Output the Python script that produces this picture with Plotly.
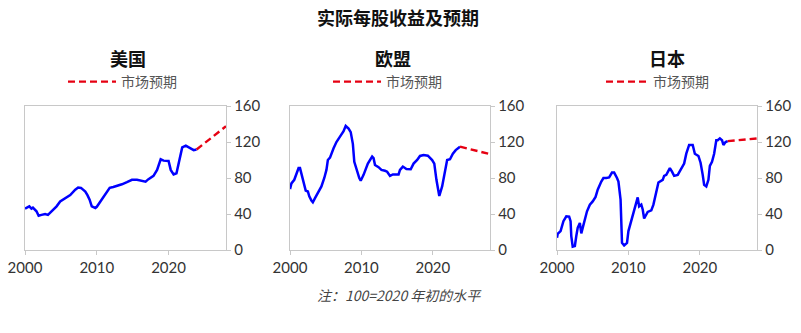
import plotly.graph_objects as go

# ---------------- data ----------------
us_years = [2000.0, 2000.6, 2000.9, 2001.1, 2001.6, 2001.9, 2002.3, 2002.8, 2003.2, 2003.7,
            2004.4, 2004.9, 2005.6, 2006.3, 2007.0, 2007.4, 2007.8, 2008.4, 2008.7, 2009.0,
            2009.3, 2009.8, 2010.0, 2010.5, 2011.2, 2011.8, 2012.3, 2013.0, 2013.5, 2014.2,
            2014.9, 2015.6, 2016.1, 2016.8, 2017.2, 2017.9, 2018.4, 2018.9, 2019.3, 2020.0,
            2020.3, 2020.7, 2021.1, 2021.5, 2021.9, 2022.4, 2022.9, 2023.5, 2023.9]
us_eps = [46, 48.5, 46, 47, 43, 38, 39, 40, 39, 43,
          48.5, 54, 58, 61, 67, 69.5, 69, 65, 61, 56,
          48.5, 46.7, 48, 54, 63, 69, 70, 71.4, 73, 75.4,
          78, 78, 77, 76, 78.7, 82.4, 89, 100.8, 99.3, 99,
          89, 84, 85.3, 100, 114, 116, 114, 111, 111.7]
us_fc_years = [2023.9, 2028.0]
us_fc = [111.7, 137.5]

eu_years = [2000.0, 2000.2, 2000.6, 2000.9, 2001.2, 2001.4, 2001.6, 2001.9, 2002.2, 2002.5,
            2002.7, 2003.0, 2003.2, 2003.5, 2004.0, 2004.4, 2004.8, 2005.1, 2005.3, 2005.6,
            2006.1, 2006.5, 2007.0, 2007.5, 2007.8, 2008.2, 2008.5, 2008.8, 2009.0, 2009.3,
            2009.7, 2009.9, 2010.3, 2010.9, 2011.3, 2011.5, 2011.7, 2011.9, 2012.4, 2012.8,
            2013.3, 2013.6, 2014.0, 2014.4, 2015.2, 2015.4, 2015.8, 2016.3, 2016.9, 2017.3,
            2017.8, 2018.2, 2018.7, 2019.3, 2019.9, 2020.2, 2020.5, 2020.9, 2021.3, 2021.6,
            2022.0, 2022.4, 2022.8, 2023.2, 2023.6, 2023.8]
eu_eps = [67.7, 74, 78, 85, 91, 91, 85, 74, 66, 65,
          59.6, 55, 53, 57.7, 65, 70.6, 80, 89, 100, 102.6,
          113, 120, 126, 132, 138, 135, 131, 118, 98, 89,
          80, 77, 83.5, 96, 102, 103.7, 102, 94.5, 92, 89,
          88, 87, 82.4, 84, 84, 89, 92.7, 90, 89.7, 96,
          100, 104.5, 105.6, 104.8, 100, 96, 78, 60, 70.6, 81.7,
          100, 100.8, 107, 111, 114, 114.8]
eu_fc_years = [2023.8, 2028.0]
eu_fc = [114.8, 106.5]

jp_years = [2000.0, 2000.1, 2000.5, 2000.7, 2000.9, 2001.3, 2001.7, 2001.9, 2002.0, 2002.2,
            2002.5, 2002.7, 2002.9, 2003.2, 2003.4, 2003.6, 2003.9, 2004.2, 2004.6, 2005.0,
            2005.4, 2005.7, 2006.2, 2006.5, 2006.9, 2007.3, 2007.7, 2008.0, 2008.4, 2008.6,
            2008.9, 2009.1, 2009.4, 2009.8, 2010.0, 2010.4, 2010.8, 2011.2, 2011.3, 2011.5,
            2011.8, 2012.0, 2012.2, 2012.7, 2013.2, 2013.5, 2013.9, 2014.2, 2014.8, 2015.0,
            2015.3, 2015.8, 2016.1, 2016.4, 2016.9, 2017.3, 2017.8, 2018.1, 2018.5, 2019.0,
            2019.3, 2019.8, 2020.1, 2020.4, 2020.6, 2020.9, 2021.2, 2021.4, 2021.7, 2022.0,
            2022.3, 2022.5, 2022.8, 2023.1, 2023.3, 2023.6, 2023.9]
jp_eps = [13.6, 18, 21, 26, 32, 37.5, 37, 32, 15.5, 3.7,
          4.4, 15.5, 24.6, 30, 18.4, 24.6, 35.7, 43, 50.4, 54,
          59, 67, 76, 80, 80, 80.6, 86, 86, 80, 76,
          56, 8, 5, 8, 21, 32, 43, 56, 58.5, 48.5,
          50.4, 45, 35, 42.3, 44, 50.4, 63, 75, 78, 82.4,
          83.5, 91, 87, 82.4, 83.5, 89, 96, 107, 116.7, 116.7,
          107, 104.5, 97, 83.5, 72.5, 70.6, 78, 93.4, 98, 107,
          122, 122, 124, 122, 116.7, 120, 121]
jp_fc_years = [2023.9, 2028.0]
jp_fc = [121, 124]

panel_titles = ["美国", "欧盟", "日本"]
legend_label = "市场预期"
main_title = "实际每股收益及预期"
note_text = "注：100=2020 年初的水平"
x_ticks = [2000, 2010, 2020]
y_ticks = [0, 40, 80, 120, 160]

# ---------------- styling ----------------
W, H = 801, 333
BLUE = "#0000FF"
RED = "#E60012"
GRID = "#C8C8C8"
TICKFONT = dict(family="Lato, Inter, sans-serif", size=15, color="#333333")
CJK = "Noto Sans CJK SC"

panels = [
    (us_years, us_eps, us_fc_years, us_fc, (25, 226), 128, 63, 48),
    (eu_years, eu_eps, eu_fc_years, eu_fc, (290, 490), 393, 328, 48),
    (jp_years, jp_eps, jp_fc_years, jp_fc, (557, 757), 667, 601, 42),
]
plot_top, plot_bottom = 106, 250

fig = go.Figure()
layout = dict(
    width=W, height=H, margin=dict(l=0, r=0, t=0, b=0, autoexpand=False),
    paper_bgcolor="white", plot_bgcolor="white",
    showlegend=True, annotations=[],
)

for i, (xs, ys, fx, fy, (x0, x1), tx, lx, iw) in enumerate(panels):
    n = "" if i == 0 else str(i + 1)
    xa, ya = "x" + n, "y" + n
    leg = "legend" + n
    fig.add_trace(go.Scatter(x=xs, y=ys, mode="lines", xaxis=xa, yaxis=ya,
                             line=dict(color=BLUE, width=2.5), showlegend=False,
                             hoverinfo="skip"))
    fig.add_trace(go.Scatter(x=fx, y=fy, mode="lines", xaxis=xa, yaxis=ya,
                             line=dict(color=RED, width=2.4, dash="7px,4px"),
                             name=legend_label, legend=leg, showlegend=True,
                             hoverinfo="skip"))
    layout["xaxis" + n] = dict(
        domain=[x0 / W, x1 / W], anchor=ya, range=[2000, 2028],
        tickvals=x_ticks, ticks="outside", ticklen=4, tickcolor=GRID,
        showline=True, linecolor=GRID, linewidth=1.3, mirror=True,
        showgrid=False, zeroline=False, tickfont=TICKFONT, automargin=False,
    )
    layout["yaxis" + n] = dict(
        domain=[(H - plot_bottom) / H, (H - plot_top) / H], anchor=xa,
        side="right", range=[0, 160], tickvals=y_ticks, ticks="outside",
        ticklen=4, tickcolor=GRID, showline=True, linecolor=GRID,
        linewidth=1.3, mirror=True, showgrid=False, zeroline=False,
        tickfont=TICKFONT, automargin=False,
    )
    layout[leg] = dict(
        x=lx / W, y=(H - 82) / H, xanchor="left", yanchor="middle",
        orientation="h", bgcolor="rgba(0,0,0,0)",
        font=dict(family=CJK, size=14, color="#555555"),
        itemwidth=iw,
    )
    layout["annotations"].append(dict(
        text="<b>%s</b>" % panel_titles[i], x=tx / W, y=(H - 58) / H,
        xref="paper", yref="paper", xanchor="center", yanchor="middle",
        showarrow=False, font=dict(family=CJK, size=18, color="#111111"),
    ))

layout["annotations"].append(dict(
    text="<b>%s</b>" % main_title, x=398 / W, y=(H - 17) / H,
    xref="paper", yref="paper", xanchor="center", yanchor="middle",
    showarrow=False, font=dict(family=CJK, size=18, color="#111111"),
))
layout["annotations"].append(dict(
    text="<i>%s</i>" % note_text, x=399 / W, y=(H - 295) / H,
    xref="paper", yref="paper", xanchor="center", yanchor="middle",
    showarrow=False, font=dict(family=CJK, size=14, color="#444444"),
))

fig.update_layout(**layout)
fig.write_html("out.html")
